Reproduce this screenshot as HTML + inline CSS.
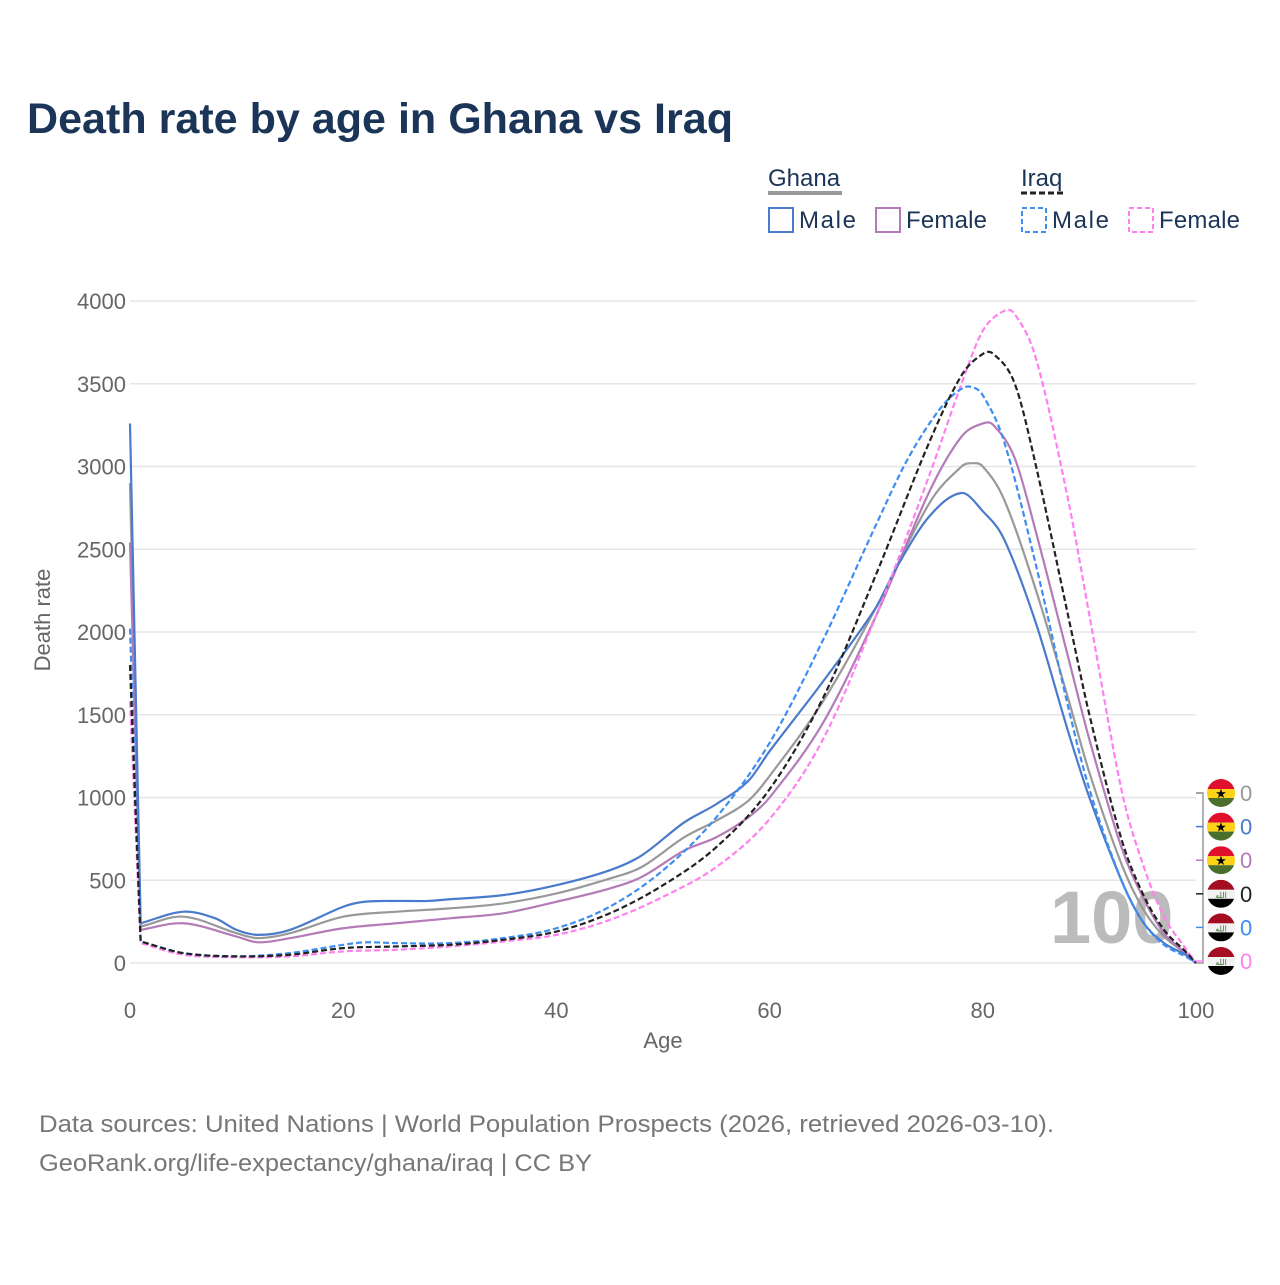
<!DOCTYPE html>
<html><head><meta charset="utf-8"><style>
body{margin:0;background:#fff;font-family:"Liberation Sans",sans-serif}
svg text{font-family:"Liberation Sans",sans-serif}
</style></head><body>
<svg id="chart" width="1280" height="1280" viewBox="0 0 1280 1280" xmlns="http://www.w3.org/2000/svg">
<text x="27" y="133" font-size="43" font-weight="bold" fill="#1a3557" textLength="706" lengthAdjust="spacingAndGlyphs">Death rate by age in Ghana vs Iraq</text>
<g font-size="24" fill="#1a3557">
<text x="768" y="186">Ghana</text>
<line x1="768" y1="193" x2="842" y2="193" stroke="#999" stroke-width="4"/>
<text x="1021" y="186">Iraq</text>
<line x1="1021" y1="193" x2="1066" y2="193" stroke="#222" stroke-width="3" stroke-dasharray="6,3"/>
<g><rect x="769" y="208" width="24" height="24" fill="none" stroke="#4a7acb" stroke-width="2"/><text x="799" y="228" textLength="57">Male</text></g>
<g><rect x="876" y="208" width="24" height="24" fill="none" stroke="#b37bb8" stroke-width="2"/><text x="906" y="228" textLength="81">Female</text></g>
<g><rect x="1022" y="208" width="24" height="24" fill="none" stroke="#3d8ef0" stroke-width="2" stroke-dasharray="5,3"/><text x="1052" y="228" textLength="57">Male</text></g>
<g><rect x="1129" y="208" width="24" height="24" fill="none" stroke="#ff80ee" stroke-width="2" stroke-dasharray="5,3"/><text x="1159" y="228" textLength="81">Female</text></g>
</g>
<g id="grid"></g>
<text x="1050" y="943" font-size="74" font-weight="bold" fill="#bbb">100</text>
<g id="series"></g>
<g id="flags"></g>
<text transform="translate(50,620) rotate(-90)" text-anchor="middle" font-size="22" fill="#666">Death rate</text>
<text x="663" y="1048" text-anchor="middle" font-size="22" fill="#666">Age</text>
<text x="39" y="1132" font-size="24" fill="#777" textLength="1015" lengthAdjust="spacingAndGlyphs">Data sources: United Nations | World Population Prospects (2026, retrieved 2026-03-10).</text>
<text x="39" y="1171" font-size="24" fill="#777" textLength="553" lengthAdjust="spacingAndGlyphs">GeoRank.org/life-expectancy/ghana/iraq | CC BY</text>
</svg>
<script>
const yTicks=[0,500,1000,1500,2000,2500,3000,3500,4000];
const xTicks=[0,20,40,60,80,100];
const ghanaMaleAges=[0,1,5,8,10,12,15,20,22,25,28,30,35,40,45,48,52,55,58,60,65,70,72,75,78,80,82,85,88,90,93,95,97,99,100];
const ghanaMale=[3260,240,310,270,200,170,200,340,370,375,375,385,410,470,560,650,850,960,1100,1280,1700,2150,2400,2700,2840,2730,2560,2050,1400,1000,500,250,120,50,0];
const ghanaTotalAges=[0,1,5,10,12,15,20,25,30,35,40,45,48,52,55,58,60,65,70,75,78,79,80,82,85,88,90,93,95,97,99,100];
const ghanaTotal=[2900,220,280,180,150,180,280,310,330,360,420,510,580,760,860,980,1130,1580,2150,2780,3000,3020,3000,2800,2250,1600,1150,600,330,160,60,0];
const ghanaFemaleAges=[0,1,5,10,12,15,20,25,30,35,40,45,48,52,55,58,60,65,70,75,78,80,81,83,85,88,90,93,95,97,99,100];
const ghanaFemale=[2540,200,240,160,125,150,210,240,270,300,370,450,520,680,760,880,1000,1450,2100,2850,3180,3260,3250,3050,2600,1850,1350,700,400,180,60,0];
const iraqTotalAges=[0,1,5,10,15,20,25,30,35,40,45,50,55,60,65,70,75,78,80,81,83,85,88,90,93,95,97,99,100];
const iraqTotal=[1800,130,60,40,50,90,100,110,140,190,300,470,700,1050,1600,2350,3150,3550,3680,3680,3500,3000,2100,1500,750,420,200,70,0];
const iraqMaleAges=[0,1,5,10,15,20,22,25,30,35,40,45,50,55,60,65,70,73,76,78,79,80,82,85,88,90,93,95,97,99,100];
const iraqMale=[2020,130,60,40,60,110,125,120,120,150,210,340,560,880,1330,1950,2650,3050,3350,3470,3480,3430,3150,2400,1550,1050,500,250,110,40,0];
const iraqFemaleAges=[0,1,5,10,15,20,25,30,35,40,45,50,55,60,65,70,75,78,80,82,83,85,88,90,93,95,97,99,100];
const iraqFemale=[1580,120,50,35,40,70,80,100,130,170,260,400,580,870,1350,2100,2950,3500,3820,3940,3920,3650,2800,2100,1050,600,280,90,0];
const xs=a=>130+a*10.66, ys=v=>963-v*0.1655;
const NS="http://www.w3.org/2000/svg";
const grid=document.getElementById('grid');
yTicks.forEach(t=>{
 const l=document.createElementNS(NS,'line');
 
 
 l.setAttribute('x1',130);l.setAttribute('x2',1196);l.setAttribute('y1',ys(t));l.setAttribute('y2',ys(t));
 l.setAttribute('stroke','#e6e6e6');l.setAttribute('stroke-width',1.5);grid.appendChild(l);
 const tx=document.createElementNS(NS,'text');
 
 
 tx.setAttribute('x',126);tx.setAttribute('y',ys(t)+8);tx.setAttribute('text-anchor','end');tx.setAttribute('font-size',22);tx.setAttribute('fill','#666');tx.textContent=t;grid.appendChild(tx);
});
xTicks.forEach(t=>{
 const tx=document.createElementNS(NS,'text');
 
 
 tx.setAttribute('x',xs(t));tx.setAttribute('y',1018);tx.setAttribute('text-anchor','middle');tx.setAttribute('font-size',22);tx.setAttribute('fill','#666');tx.textContent=t;grid.appendChild(tx);
});
function path(ages,vals){
 const p=ages.map((a,i)=>[xs(a),ys(vals[i])]);
 const n=p.length, m=[];
 for(let i=0;i<n;i++){
  if(i<=1||i===n-1){ const j=i===n-1?i-1:i; m.push((p[j+1][1]-p[j][1])/(p[j+1][0]-p[j][0])); }
  else m.push((p[i+1][1]-p[i-1][1])/(p[i+1][0]-p[i-1][0]));
 }
 let d='M'+p[0][0]+','+p[0][1]+' L'+p[1][0]+','+p[1][1];
 for(let i=1;i<n-1;i++){
  const dx=(p[i+1][0]-p[i][0])/3;
  d+=' C'+(p[i][0]+dx)+','+(p[i][1]+m[i]*dx)+' '+(p[i+1][0]-dx)+','+(p[i+1][1]-m[i+1]*dx)+' '+p[i+1][0]+','+p[i+1][1];
 }
 return d;
}
const S=document.getElementById('series');
function draw(name,ages,vals,color,dash){
 const el=document.createElementNS(NS,'path');
 
 
 el.setAttribute('d',path(ages,vals));el.setAttribute('fill','none');el.setAttribute('stroke',color);el.setAttribute('stroke-width',2.2);
 if(dash)el.setAttribute('stroke-dasharray','6,3');
 S.appendChild(el);
}
draw('line-ghana-total',ghanaTotalAges,ghanaTotal,'#999',0);
draw('line-ghana-female',ghanaFemaleAges,ghanaFemale,'#b37bb8',0);
draw('line-ghana-male',ghanaMaleAges,ghanaMale,'#4a7acb',0);
draw('line-iraq-female',iraqFemaleAges,iraqFemale,'#ff80ee',1);
draw('line-iraq-male',iraqMaleAges,iraqMale,'#3d8ef0',1);
draw('line-iraq-total',iraqTotalAges,iraqTotal,'#222',1);
const F=document.getElementById('flags');
const fl=[['ghana','#999'],['ghana','#4a7acb'],['ghana','#b37bb8'],['iraq','#222'],['iraq','#3d8ef0'],['iraq','#ff80ee']];
let br='<path d="M1196,793 H1203 V963 H1196" fill="none" stroke="#999" stroke-width="1.5"/>';
fl.forEach((f,i)=>{
 const cy=793+i*33.6;
 br+=`<line x1="1196" x2="1203" y1="${cy}" y2="${cy}" stroke="${f[1]}" stroke-width="1.5"/>`;
 br+=`<clipPath id="c${i}"><circle cx="1221" cy="${cy}" r="14"/></clipPath><g clip-path="url(#c${i})">`;
 if(f[0]==='ghana') br+=`<rect x="1207" y="${cy-14}" width="28" height="10" fill="#e0102c"/><rect x="1207" y="${cy-4}" width="28" height="9" fill="#fcd116"/><rect x="1207" y="${cy+5}" width="28" height="9" fill="#4a6e2e"/><text x="1221" y="${cy+5}" font-size="13" text-anchor="middle">★</text>`;
 else br+=`<rect x="1207" y="${cy-14}" width="28" height="10" fill="#a50d21"/><rect x="1207" y="${cy-4}" width="28" height="9" fill="#f2f2f2"/><rect x="1207" y="${cy+5}" width="28" height="9" fill="#000"/><text x="1221" y="${cy+4}" font-size="8" fill="#3b6e2e" text-anchor="middle">الله</text>`;
 br+=`</g><text x="1240" y="${cy+8}" font-size="22" fill="${f[1]}">0</text>`;
});
F.innerHTML=br;


</script>
</body></html>
